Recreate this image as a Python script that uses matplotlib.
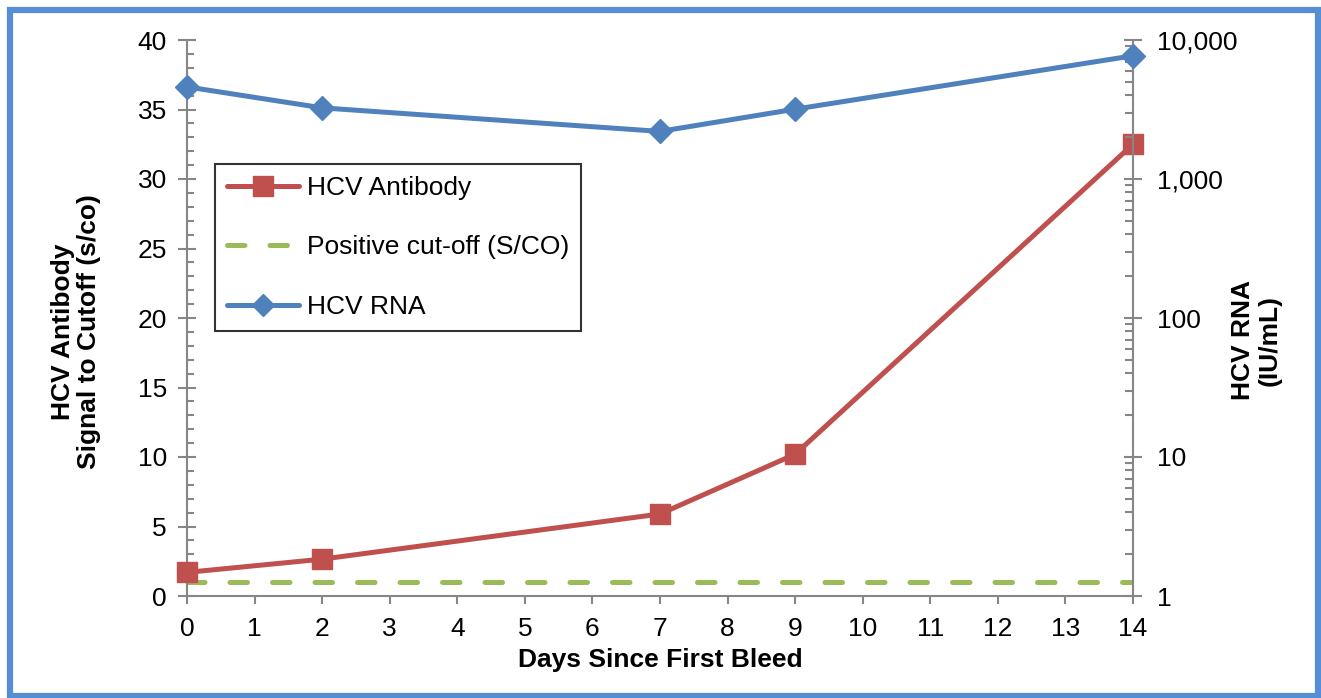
import numpy as np
import matplotlib.pyplot as plt
from matplotlib.patches import Rectangle
from matplotlib.ticker import MultipleLocator, LogLocator, FuncFormatter, NullFormatter

plt.rcParams['font.family'] = ['Liberation Sans', 'DejaVu Sans']

days = [0, 2, 7, 9, 14]
antibody = [1.7, 2.65, 5.9, 10.2, 32.5]
cutoff = [1.0, 1.0, 1.0, 1.0, 1.0]
rna = [4600, 3250, 2200, 3180, 7700]

red = '#C0504D'
green = '#9BBB59'
blue = '#4F81BD'
gray = '#868686'

W, H = 1321, 698
fig = plt.figure(figsize=(W / 100, H / 100), dpi=100)
ax = fig.add_axes([187 / W, 1 - 596 / H, 946 / W, 556 / H])
ax2 = ax.twinx()

ha, = ax.plot(days, antibody, color=red, lw=3.6, marker='s', ms=15,
              solid_capstyle='round', clip_on=False, zorder=3, label='HCV Antibody')
hc, = ax.plot([days[0], days[-1]], [cutoff[0], cutoff[-1]], color=green, lw=3.6,
              dashes=(3.5, 5), dash_capstyle='round', label='Positive cut-off (S/CO)')
hr, = ax2.plot(days, rna, color=blue, lw=3.6, marker='D', ms=12,
               solid_capstyle='round', clip_on=False, zorder=3, label='HCV RNA')

ax.set_xlim(0, 14)
ax.set_ylim(0, 40)
ax2.set_yscale('log')
ax2.set_ylim(1, 10000)

ax.xaxis.set_major_locator(MultipleLocator(1))
ax.yaxis.set_major_locator(MultipleLocator(5))
ax.yaxis.set_minor_locator(MultipleLocator(1))
ax2.yaxis.set_major_locator(LogLocator(base=10))
ax2.yaxis.set_minor_locator(LogLocator(base=10, subs=np.arange(2, 10)))
ax2.yaxis.set_major_formatter(FuncFormatter(lambda v, p: f'{v:,.0f}'))
ax2.yaxis.set_minor_formatter(NullFormatter())

for a in (ax, ax2):
    a.spines['top'].set_visible(False)
    for s in a.spines.values():
        s.set_color(gray)
        s.set_linewidth(1.5)
ax.spines['right'].set_visible(False)
ax2.spines['left'].set_visible(False)
ax2.spines['bottom'].set_visible(False)

ax.tick_params(axis='x', which='major', direction='out', length=6, width=1.5,
               color=gray, labelsize=19, pad=9)
ax.tick_params(axis='y', which='major', direction='inout', length=13, width=1.5,
               color=gray, labelsize=19, pad=8)
ax.tick_params(axis='y', which='minor', direction='in', length=5, width=1.5, color=gray)
ax2.tick_params(axis='y', which='major', direction='inout', length=13, width=1.5,
                color=gray, labelsize=19, pad=11)
ax2.tick_params(axis='y', which='minor', direction='in', length=6, width=1.5, color=gray)

ax.set_xlabel('Days Since First Bleed', fontsize=19, fontweight='bold', labelpad=5)
fig.text(76 / W, 1 - 332 / H, 'HCV Antibody\nSignal to Cutoff (s/co)', rotation=90,
         ha='center', va='center', fontsize=19, fontweight='bold', linespacing=1.15)
fig.text(1256 / W, 1 - 340 / H, 'HCV RNA\n(IU/mL)', rotation=90,
         ha='center', va='center', fontsize=19, fontweight='bold', linespacing=1.15)

leg = ax2.legend(handles=[ha, hc, hr], loc='upper left', bbox_to_anchor=(0.0296, 0.777),
                 borderaxespad=0, fontsize=19, frameon=True, fancybox=False,
                 edgecolor='black', handlelength=2.75, labelspacing=1.35, borderpad=0.45,
                 handletextpad=0.28, markerscale=0.95)
leg.get_frame().set_linewidth(1.5)

border = Rectangle((10 / W, 2 / H), 1308 / W, 686 / H, transform=fig.transFigure,
                   fill=False, edgecolor='#558ED5', linewidth=4.5)
fig.patches.append(border)

fig.savefig('out.png', dpi=100)
